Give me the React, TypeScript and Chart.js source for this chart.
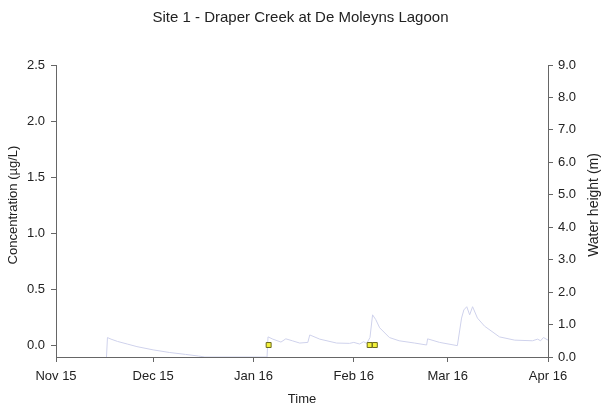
import React, { useEffect, useRef } from "react";
import { Chart, registerables } from "chart.js";
Chart.register(...registerables);

// Days since 1 Nov 2015
const monthTickDays = [0, 30, 61, 92, 121, 152];
const monthTickLabels = ["Nov 15", "Dec 15", "Jan 16", "Feb 16", "Mar 16", "Apr 16"];
const concTicks = [0, 0.5, 1.0, 1.5, 2.0, 2.5];
const heightTicks = [0, 1, 2, 3, 4, 5, 6, 7, 8, 9];

// Water height (m)
const waterDays = [15.6, 15.9, 17, 19, 22, 25, 30, 35, 40, 44, 46, 65.2, 65.5, 67, 69.5, 71, 73, 75.3, 77.8, 78.4, 81.5, 86.7, 90.7, 92, 93.8, 95, 96, 97, 97.8, 98.8, 100, 103, 106, 110.8, 114.5, 114.8, 118.5, 124, 125.3, 126, 126.9, 127.8, 128.7, 130.2, 132.4, 137, 141.7, 147.2, 148.8, 149.7, 150.6, 152];
const waterHeight = [0.0, 0.6, 0.55, 0.48, 0.4, 0.32, 0.22, 0.14, 0.08, 0.03, 0.0, 0.0, 0.62, 0.55, 0.46, 0.56, 0.5, 0.43, 0.45, 0.68, 0.55, 0.43, 0.42, 0.45, 0.4, 0.47, 0.42, 0.6, 1.3, 1.15, 0.9, 0.6, 0.5, 0.43, 0.37, 0.56, 0.45, 0.35, 1.2, 1.45, 1.55, 1.3, 1.55, 1.2, 0.95, 0.62, 0.52, 0.5, 0.55, 0.5, 0.6, 0.52];

// Concentration samples (µg/L)
const sampleDays = [65.7, 96.9, 98.5];
const sampleConc = [0, 0, 0];

const leftTitle = "Concentration (µg/L)";
const rightTitle = "Water height (m)";

const axisColor = "#666666";
const textColor = "#222222";
const font = "'Liberation Sans', Arial, sans-serif";

const axisTitles = {
  id: "axisTitles",
  afterDraw(chart: any) {
    const ctx = chart.ctx;
    ctx.save();
    ctx.fillStyle = textColor;
    ctx.textAlign = "center";
    ctx.textBaseline = "middle";
    ctx.font = `13px ${font}`;
    ctx.translate(13, 205);
    ctx.rotate(-Math.PI / 2);
    ctx.fillText(leftTitle, 0, 0);
    ctx.restore();
    ctx.save();
    ctx.fillStyle = textColor;
    ctx.textAlign = "center";
    ctx.textBaseline = "middle";
    ctx.font = `14px ${font}`;
    ctx.translate(594, 205);
    ctx.rotate(-Math.PI / 2);
    ctx.fillText(rightTitle, 0, 0);
    ctx.restore();
  },
};

export default function App() {
  const ref = useRef<HTMLCanvasElement>(null);
  useEffect(() => {
    const ctx = ref.current!;
    const chart = new Chart(ctx, {
      type: "line",
      data: {
        datasets: [
          {
            label: "Water height",
            data: waterDays.map((d, i) => ({ x: d, y: waterHeight[i] })),
            yAxisID: "y2",
            borderColor: "#cfd2ec",
            borderWidth: 1,
            pointRadius: 0,
            tension: 0,
            order: 2,
          },
          {
            label: "Concentration",
            data: sampleDays.map((d, i) => ({ x: d, y: sampleConc[i] })),
            yAxisID: "y",
            showLine: false,
            pointStyle: "rect",
            pointRadius: 3.5,
            backgroundColor: "#f4f23a",
            borderColor: "#6b6a1e",
            borderWidth: 1,
            order: 1,
          },
        ],
      },
      options: {
        animation: false,
        responsive: false,
        devicePixelRatio: 1,
        layout: { padding: { left: 0, right: 0, top: 0, bottom: 0 } },
        plugins: {
          legend: { display: false },
          tooltip: { enabled: false },
          title: {
            display: true,
            text: "Site 1 - Draper Creek at De Moleyns Lagoon",
            color: textColor,
            font: { family: font, size: 15, weight: "normal" },
            padding: { top: 9, bottom: 38 },
          },
        },
        scales: {
          x: {
            type: "linear",
            min: 0,
            max: 152,
            afterBuildTicks: (s: any) => {
              s.ticks = monthTickDays.map((v) => ({ value: v }));
            },
            afterFit: (s: any) => {
              s.height = 50;
            },
            ticks: {
              callback: (v: any) => {
                const i = monthTickDays.indexOf(Number(v));
                return i >= 0 ? monthTickLabels[i] : "";
              },
              color: textColor,
              font: { family: font, size: 13 },
              maxRotation: 0,
              autoSkip: false,
              padding: 7,
            },
            grid: {
              display: true,
              drawOnChartArea: false,
              drawTicks: true,
              tickLength: 5,
              color: axisColor,
            },
            border: { display: true, color: axisColor, width: 1 },
            title: {
              display: true,
              text: "Time",
              color: textColor,
              font: { family: font, size: 13 },
              padding: { top: 0, bottom: 0 },
            },
          },
          y: {
            type: "linear",
            position: "left",
            min: -0.107,
            max: 2.5,
            afterBuildTicks: (s: any) => {
              s.ticks = concTicks.map((v) => ({ value: v }));
            },
            afterFit: (s: any) => {
              s.width = 56;
            },
            ticks: {
              callback: (v: any) => Number(v).toFixed(1),
              color: textColor,
              font: { family: font, size: 13 },
              padding: 6,
            },
            grid: {
              display: true,
              drawOnChartArea: false,
              drawTicks: true,
              tickLength: 5,
              color: axisColor,
            },
            border: { display: true, color: axisColor, width: 1 },
            title: { display: false },
          },
          y2: {
            type: "linear",
            position: "right",
            min: 0,
            max: 9,
            afterBuildTicks: (s: any) => {
              s.ticks = heightTicks.map((v) => ({ value: v }));
            },
            afterFit: (s: any) => {
              s.width = 53;
            },
            ticks: {
              callback: (v: any) => Number(v).toFixed(1),
              color: textColor,
              font: { family: font, size: 13 },
              padding: 5,
            },
            grid: {
              display: true,
              drawOnChartArea: false,
              drawTicks: true,
              tickLength: 5,
              color: axisColor,
            },
            border: { display: true, color: axisColor, width: 1 },
            title: { display: false },
          },
        },
      },
      plugins: [axisTitles],
    });
    return () => chart.destroy();
  }, []);
  return (
    <div style={{ position: "absolute", left: 0, top: 0, width: 601, height: 407, background: "#fff" }}>
      <canvas ref={ref} width={601} height={407} style={{ display: "block", width: 601, height: 407 }} />
    </div>
  );
}
